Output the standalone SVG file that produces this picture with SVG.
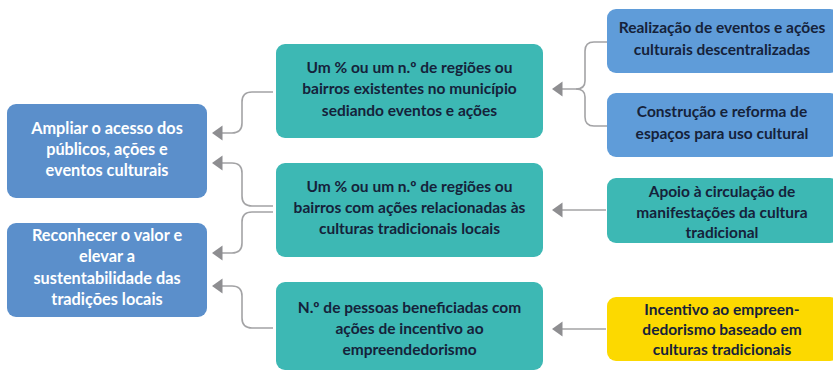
<svg xmlns="http://www.w3.org/2000/svg" width="833" height="371" viewBox="0 0 833 371">
<style>
.box{stroke:none}
.blueL{fill:#5b8fcb}
.blueR{fill:#5f9cd9}
.teal{fill:#3db8b4}
.yellow{fill:#fcd900}
text{font-family:Lato,"Open Sans","Liberation Sans",sans-serif;font-weight:700;font-size:15.5px;text-anchor:middle}
.w{fill:#ffffff;font-size:16.3px}
.d{fill:#15223a}
.ln{fill:none;stroke:#a3a3a5;stroke-width:1.6}
</style>
<defs>
<marker id="ah" markerWidth="13" markerHeight="18" refX="3" refY="9" orient="auto" markerUnits="userSpaceOnUse">
<path d="M1,1.5 L11.5,9 L1,16.5 Z" fill="#8e8e91"/>
</marker>
</defs>
<rect width="833" height="371" fill="#ffffff"/>
<g id="connectors">
<path class="ln" d="M607,42 H594 Q585,42 585,51 V81 Q585,89 576,89 H560.5" marker-end="url(#ah)"/>
<path class="ln" d="M607,126 H594 Q585,126 585,117 V97 Q585,89 576,89"/>
<path class="ln" d="M606,210 H560.5" marker-end="url(#ah)"/>
<path class="ln" d="M606,329 H560.5" marker-end="url(#ah)"/>
<path class="ln" d="M273,92 H252 Q242,92 242,102 V123 Q242,133 232,133 H220.5" marker-end="url(#ah)"/>
<path class="ln" d="M273,206 H252 Q242,206 242,196 V173 Q242,163 232,163 H220.5" marker-end="url(#ah)"/>
<path class="ln" d="M273,212 H252 Q242,212 242,222 V243 Q242,253 232,253 H220.5" marker-end="url(#ah)"/>
<path class="ln" d="M273,328 H252 Q242,328 242,318 V296 Q242,286 232,286 H220.5" marker-end="url(#ah)"/>
</g>
<g id="goal1">
<rect class="box blueL" x="7" y="104" width="200" height="94" rx="9"/>
<text class="w" x="107" y="134">Ampliar o acesso dos</text>
<text class="w" x="107" y="155">públicos, ações e</text>
<text class="w" x="107" y="176">eventos culturais</text>
</g>
<g id="goal2">
<rect class="box blueL" x="7" y="223" width="200" height="94" rx="9"/>
<text class="w" x="107" y="241">Reconhecer o valor e</text>
<text class="w" x="107" y="262">elevar a</text>
<text class="w" x="107" y="284">sustentabilidade das</text>
<text class="w" x="107" y="305">tradições locais</text>
</g>
<g id="ind1">
<rect class="box teal" x="276" y="44" width="267" height="94" rx="9"/>
<text class="d" x="409.5" y="73">Um % ou um n.º de regiões ou</text>
<text class="d" x="409.5" y="94">bairros existentes no município</text>
<text class="d" x="409.5" y="116">sediando eventos e ações</text>
</g>
<g id="ind2">
<rect class="box teal" x="276" y="163" width="267" height="94" rx="9"/>
<text class="d" x="409.5" y="192">Um % ou um n.º de regiões ou</text>
<text class="d" x="409.5" y="213">bairros com ações relacionadas às</text>
<text class="d" x="409.5" y="234">culturas tradicionais locais</text>
</g>
<g id="ind3">
<rect class="box teal" x="276" y="282" width="267" height="88" rx="9"/>
<text class="d" x="409.5" y="313">N.º de pessoas beneficiadas com</text>
<text class="d" x="409.5" y="334">ações de incentivo ao</text>
<text class="d" x="409.5" y="355">empreendedorismo</text>
</g>
<g id="act1">
<rect class="box blueR" x="607" y="9" width="232" height="64" rx="9"/>
<text class="d" x="722" y="33">Realização de eventos e ações</text>
<text class="d" x="722" y="55">culturais descentralizadas</text>
</g>
<g id="act2">
<rect class="box blueR" x="607" y="93" width="232" height="64" rx="9"/>
<text class="d" x="722" y="117">Construção e reforma de</text>
<text class="d" x="722" y="139">espaços para uso cultural</text>
</g>
<g id="act3">
<rect class="box teal" x="607" y="178" width="232" height="65" rx="9"/>
<text class="d" x="722" y="197">Apoio à circulação de</text>
<text class="d" x="722" y="218">manifestações da cultura</text>
<text class="d" x="722" y="238">tradicional</text>
</g>
<g id="act4">
<rect class="box yellow" x="607" y="297" width="232" height="64" rx="9"/>
<text class="d" x="722" y="315">Incentivo ao empreen-</text>
<text class="d" x="722" y="335">dedorismo baseado em</text>
<text class="d" x="722" y="355">culturas tradicionais</text>
</g>
</svg>
